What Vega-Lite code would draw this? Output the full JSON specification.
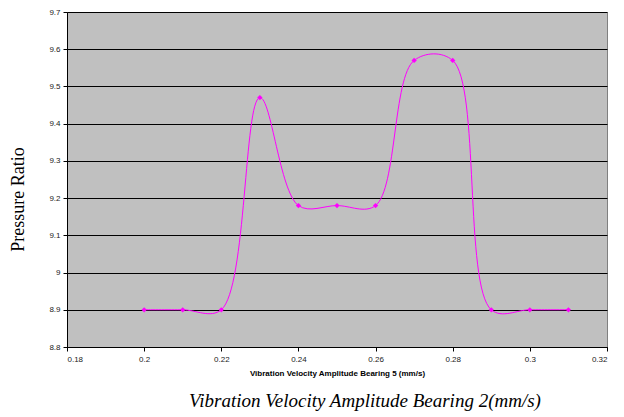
{
  "$schema": "https://vega.github.io/schema/vega-lite/v6.json",
  "autosize": "none",
  "width": 540,
  "height": 335,
  "padding": {"left": 67, "top": 12, "right": 17, "bottom": 70},
  "background": "white",
  "title": {
    "text": "Vibration Velocity Amplitude Bearing 2(mm/s)",
    "orient": "bottom",
    "anchor": "middle",
    "font": "Liberation Serif",
    "fontStyle": "italic",
    "fontWeight": "normal",
    "fontSize": 19,
    "color": "black",
    "dx": 28,
    "offset": 15
  },
  "config": {
    "view": {"fill": "#C0C0C0", "stroke": "#808080", "strokeWidth": 1},
    "axis": {
      "labelFont": "Liberation Sans",
      "labelFontSize": 8,
      "labelColor": "#222222",
      "domainColor": "black",
      "tickColor": "black",
      "tickSize": 4,
      "gridColor": "black",
      "gridOpacity": 1,
      "gridWidth": 1
    }
  },
  "data": {
    "values": [
      {"x": 0.20, "y": 8.9},
      {"x": 0.21, "y": 8.9},
      {"x": 0.22, "y": 8.9},
      {"x": 0.23, "y": 9.47},
      {"x": 0.24, "y": 9.18},
      {"x": 0.25, "y": 9.18},
      {"x": 0.26, "y": 9.18},
      {"x": 0.27, "y": 9.57},
      {"x": 0.28, "y": 9.57},
      {"x": 0.29, "y": 8.9},
      {"x": 0.30, "y": 8.9},
      {"x": 0.31, "y": 8.9}
    ]
  },
  "encoding": {
    "x": {
      "field": "x",
      "type": "quantitative",
      "scale": {"domain": [0.18, 0.32], "nice": false, "zero": false},
      "axis": {
        "values": [0.18, 0.2, 0.22, 0.24, 0.26, 0.28, 0.3, 0.32],
        "labelExpr": "datum.value == 0.2 ? '0.2' : datum.value == 0.3 ? '0.3' : format(datum.value, '.2f')",
        "grid": false,
        "labelPadding": 4,
        "title": "Vibration Velocity  Amplitude Bearing 5 (mm/s)",
        "titleFont": "Liberation Sans",
        "titleFontSize": 8,
        "titleFontWeight": "bold",
        "titleColor": "black",
        "titlePadding": 6
      }
    },
    "y": {
      "field": "y",
      "type": "quantitative",
      "scale": {"domain": [8.8, 9.7], "nice": false, "zero": false},
      "axis": {
        "values": [8.8, 8.9, 9.0, 9.1, 9.2, 9.3, 9.4, 9.5, 9.6, 9.7],
        "labelExpr": "datum.value == 9 ? '9' : format(datum.value, '.1f')",
        "grid": true,
        "labelPadding": 3,
        "title": "Pressure Ratio",
        "titleFont": "Liberation Serif",
        "titleFontSize": 18,
        "titleFontWeight": "normal",
        "titleColor": "black",
        "titleX": -49,
        "titleY": 187,
        "titleAngle": -90,
        "titleBaseline": "middle"
      }
    }
  },
  "layer": [
    {
      "mark": {"type": "line", "interpolate": "catmull-rom", "color": "#FF00FF", "strokeWidth": 1}
    },
    {
      "mark": {"type": "point", "shape": "diamond", "filled": true, "color": "#FF00FF", "size": 28, "opacity": 1}
    }
  ]
}
